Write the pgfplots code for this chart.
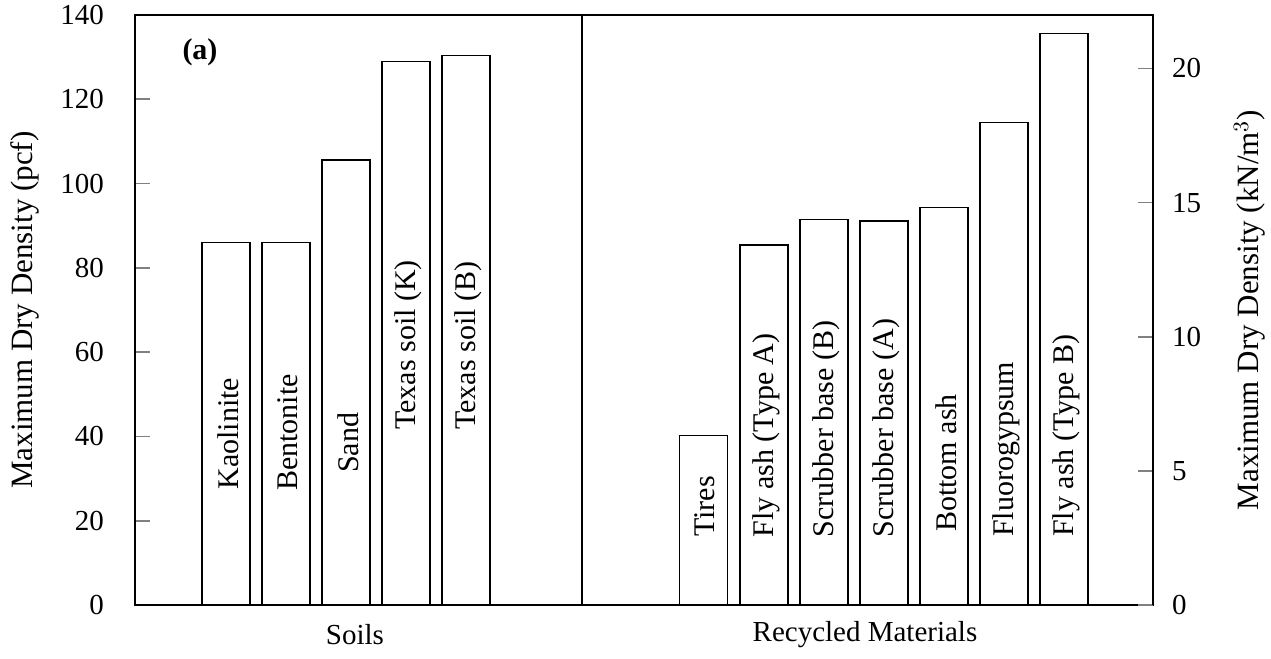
\documentclass[border=0pt]{standalone}
\usepackage{fontspec}
\setmainfont{Liberation Serif}
\usepackage{pgfplots}
\pgfplotsset{compat=1.18}

\begin{document}
\begin{tikzpicture}
\pgfplotsset{
  dens/.style={
    scale only axis, width=509pt, height=295pt,
    xmin=0, xmax=1018, ymin=0, ymax=140,
    tick align=inside, major tick length=7.5pt,
    /pgf/number format/assume math mode=true,
    tick label style={font=\fontsize{14.5}{16}\selectfont},
  }
}
\begin{axis}[dens,
  axis line style={line width=1pt},
  xtick=\empty,
  ytick={0,20,...,140},
  ytick pos=left,
  ytick style={line width=0.8pt},
  yticklabel style={xshift=-12pt},
  ylabel={Maximum Dry Density (pcf)},
  every axis y label/.style={at={(axis description cs:-0.108,0.5)}, rotate=90, anchor=center,
    font=\fontsize{15.5}{17}\selectfont},
  clip=false]
% bars: soils then recycled materials, x = pixel centre in axis units
\addplot[ybar, bar width=48, bar shift=0pt, draw=black, line width=0.6pt, fill=white] coordinates {
  (91,86.0) (151,86.0) (211,105.6) (271,128.9) (331,130.3)
  (568.5,40.3) (629,85.4) (689,91.4) (749,91.1) (809,94.4) (869,114.5) (929,135.7)
};
\draw[line width=1pt] (axis cs:447,0) -- (axis cs:447,140);
\begin{scope}[every node/.style={rotate=90, anchor=west, inner sep=0pt, font=\fontsize{15}{17}\selectfont}]
\node at (axis cs:93,27.3) {Kaolinite};
\node at (axis cs:153,27.0) {Bentonite};
\node at (axis cs:213,31.3) {Sand};
\node at (axis cs:273,41.5) {Texas soil (K)};
\node at (axis cs:333,41.5) {Texas soil (B)};
\node at (axis cs:570,16.1) {Tires};
\node at (axis cs:631,16.0) {Fly ash (Type A)};
\node at (axis cs:691,16.0) {Scrubber base (B)};
\node at (axis cs:751,16.0) {Scrubber base (A)};
\node at (axis cs:811,17.3) {Bottom ash};
\node at (axis cs:871,16.1) {Fluorogypsum};
\node at (axis cs:931,16.1) {Fly ash (Type B)};
\end{scope}
\node[font=\bfseries\fontsize{15}{17}\selectfont] at (axis cs:65,131.2) {(a)};
\node[font=\fontsize{14.5}{16}\selectfont] at (axis cs:220,-7) {Soils};
\node[font=\fontsize{14.5}{16}\selectfont] at (axis cs:730,-7) {Recycled Materials};
\end{axis}
\begin{axis}[dens,
  ymax=21.9922,
  axis x line=none, axis y line*=right,
  axis line style={line width=1pt},
  ytick={0,5,...,20},
  ytick pos=right,
  ytick style={line width=0.8pt},
  yticklabel style={xshift=6pt},
  ylabel={Maximum Dry Density (kN/m$^3$)},
  every axis y label/.style={at={(axis description cs:1.095,0.5)}, rotate=90, anchor=center,
    font=\fontsize{15.5}{17}\selectfont}]
\end{axis}
\pgfresetboundingbox
\path (-67.5pt,-27pt) rectangle (568pt,302.5pt);
\end{tikzpicture}
\end{document}
